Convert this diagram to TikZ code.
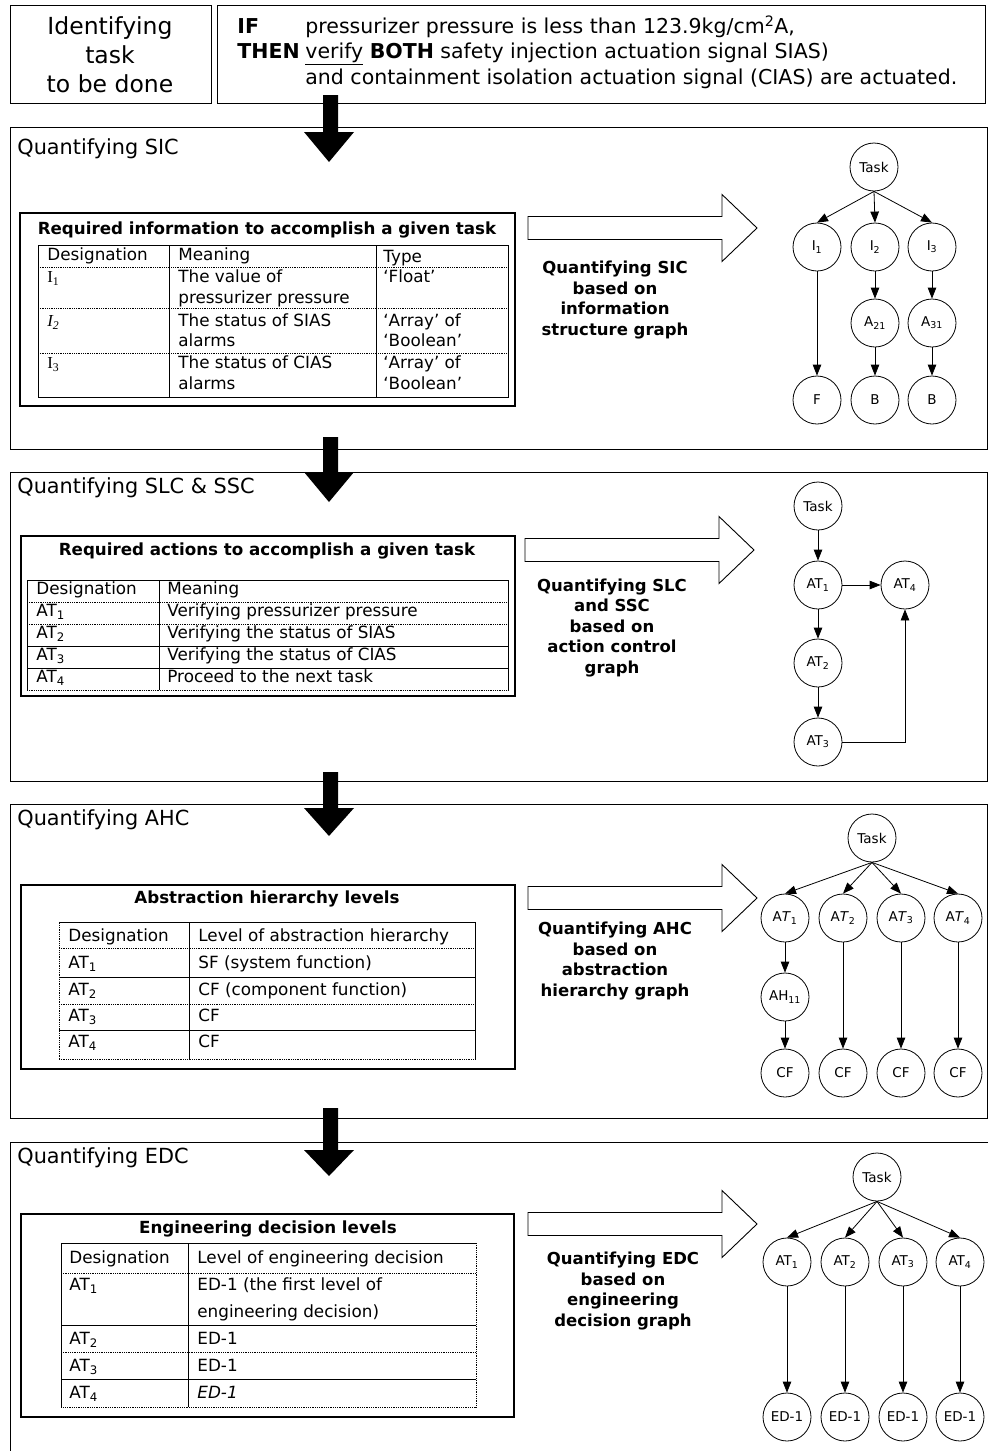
\documentclass[tikz,border=0pt]{standalone}
\usepackage{fontspec}
\setmainfont{DejaVu Sans}
\newfontfamily\serifI{Liberation Serif}
\usetikzlibrary{arrows.meta,graphs}

\begin{document}
\begin{tikzpicture}[x=1pt, y=-1pt, line width=0.8pt,
    >={Triangle[length=11pt, width=8.5pt]}]
  \tikzset{box/.style={draw, line width=0.9pt},
    panel/.style={draw, line width=1.3pt},
    rowsep/.style={densely dotted, line width=0.8pt},
    cell/.style={anchor=west, inner sep=0, text height=0.72em, text depth=0pt,
      font=\fontsize{16.8}{20}\selectfont},
    tabtitle/.style={inner sep=0, text height=0.72em, text depth=0pt,
      font=\fontsize{16.7}{20}\selectfont\bfseries},
    sect/.style={anchor=west, inner sep=0, text height=0.72em, text depth=0pt,
      font=\fontsize{20.8}{25}\selectfont},
    toptext/.style={anchor=west, inner sep=0, text height=0.72em, text depth=0pt,
      font=\fontsize{20.5}{25}\selectfont},
    graphnote/.style={align=center, inner sep=0,
      font=\fontsize{16.5}{20.5}\selectfont\bfseries},
    vtx/.style={circle, draw, line width=0.8pt, minimum size=48pt, inner sep=0,
      font=\fontsize{13.5}{15}\selectfont},
    hollow/.pic={\draw[line width=0.9pt, fill=white] (0,-11.5) -- (194,-11.5)
      -- (194,-33.5) -- (229,0) -- (194,33.5) -- (194,11.5) -- (0,11.5) -- cycle;}}
  \useasboundingbox (0,0) rectangle (988,1451);

  \draw[box] (10,5) rectangle (211,103);
  \node[align=center, inner sep=0, font=\fontsize{23.5}{29}\selectfont] (idt)
    at (110,55) {Identifying\\task\\to be done};
  \draw[box] (217,5) rectangle (985,103);
  \node[toptext] (if) at (237,30) {\bfseries IF};
  \node[toptext] (cond) at (305,30) {pressurizer pressure is less than 123.9kg/cm\textsuperscript{2}A,};
  \node[toptext] (then) at (237,55) {\bfseries THEN};
  \node[toptext] (act1) at (305,55) {\underline{verify} \textbf{BOTH} safety injection actuation signal SIAS)};
  \node[toptext] (act2) at (305,81) {and containment isolation actuation signal (CIAS) are actuated.};

  \draw[box] (10,127) rectangle (987,449);
  \draw[box] (10,472) rectangle (987,781);
  \draw[box] (10,804) rectangle (987,1118);
  \draw[box] (988,1142) -- (10,1142) -- (10,1451);

  \fill (323,95) -- (338,95) -- (338,132) -- (354,132) -- (329,162) -- (304,132) -- (323,132) -- cycle;
  \fill (323,437) -- (338,437) -- (338,472) -- (354,472) -- (329,502) -- (304,472) -- (323,472) -- cycle;
  \fill (323,772) -- (338,772) -- (338,808) -- (354,808) -- (329,836) -- (304,808) -- (323,808) -- cycle;
  \fill (323,1108) -- (338,1108) -- (338,1150) -- (354,1150) -- (329,1176) -- (304,1150) -- (323,1150) -- cycle;

  \node[sect] (s1) at (17,151) {Quantifying SIC};
  \draw[panel] (20,213) rectangle (515,406);
  \node[tabtitle] (s1h) at (267,231) {Required information to accomplish a given task};
  \draw[box] (38,245) rectangle (508,397);
  \draw[box] (169,245) -- (169,397);
  \draw[box] (376,245) -- (376,397);
  \draw[rowsep] (38,267) -- (508,267);
  \draw[rowsep] (38,308) -- (508,308);
  \draw[rowsep] (38,353) -- (508,353);
  \node[cell] (s1c1) at (47,257) {Designation};
  \node[cell] (s1c2) at (178,257) {Meaning};
  \node[cell] (s1c3) at (383,259) {Type};
  \node[cell] (s1d1) at (47,279) {\serifI I\textsubscript{1}};
  \node[cell] (s1m1) at (178,279) {The value of};
  \node[cell] (s1m1b) at (178,300) {pressurizer pressure};
  \node[cell] (s1t1) at (383,279) {`Float'};
  \node[cell] (s1d2) at (47,323) {\serifI\itshape I\textsubscript{2}};
  \node[cell] (s1m2) at (178,323) {The status of SIAS};
  \node[cell] (s1m2b) at (178,343) {alarms};
  \node[cell] (s1t2) at (383,323) {`Array' of};
  \node[cell] (s1t2b) at (383,343) {`Boolean'};
  \node[cell] (s1d3) at (47,365) {\serifI I\textsubscript{3}};
  \node[cell] (s1m3) at (178,365) {The status of CIAS};
  \node[cell] (s1m3b) at (178,386) {alarms};
  \node[cell] (s1t3) at (383,365) {`Array' of};
  \node[cell] (s1t3b) at (383,386) {`Boolean'};

  \pic at (528,228) {hollow};
  \node[graphnote] (s1n) at (615,300) {Quantifying SIC\\based on\\information\\structure graph};

  \node[vtx] (s1t) at (874,167) {Task};
  \node[vtx] (i1) at (817,247) {I\textsubscript{1}};
  \node[vtx] (i2) at (875,247) {I\textsubscript{2}};
  \node[vtx] (i3) at (932,247) {I\textsubscript{3}};
  \node[vtx] (a21) at (875,323) {A\textsubscript{21}};
  \node[vtx] (a31) at (932,323) {A\textsubscript{31}};
  \node[vtx] (f) at (817,400) {F};
  \node[vtx] (b2) at (875,400) {B};
  \node[vtx] (b3) at (932,400) {B};
  \draw[->] (s1t.south) -- (i1.north);
  \draw[->] (s1t.south) -- (i2.north);
  \draw[->] (s1t.south) -- (i3.north);
  \graph[use existing nodes] {
    i1 -> f;
    i2 -> a21 -> b2;
    i3 -> a31 -> b3;
  };

  \node[sect] (s2) at (17,490) {Quantifying SLC \& SSC};
  \draw[panel] (21,536) rectangle (515,696);
  \node[tabtitle] (s2h) at (267,552) {Required actions to accomplish a given task};
  \draw[box] (27,690) -- (27,580) -- (508,580) -- (508,690);
  \draw[rowsep] (27,690) -- (508,690);
  \draw[box] (159,580) -- (159,690);
  \draw[rowsep] (27,602) -- (508,602);
  \draw[rowsep] (27,624) -- (508,624);
  \draw[box] (27,646) -- (508,646);
  \draw[box] (27,668) -- (508,668);
  \node[cell] (s2c1) at (36,591) {Designation};
  \node[cell] (s2c2) at (167,591) {Meaning};
  \node[cell] (s2d1) at (36,613) {AT\textsubscript{1}};
  \node[cell] (s2m1) at (167,613) {Verifying pressurizer pressure};
  \node[cell] (s2d2) at (36,635) {AT\textsubscript{2}};
  \node[cell] (s2m2) at (167,635) {Verifying the status of SIAS};
  \node[cell] (s2d3) at (36,657) {AT\textsubscript{3}};
  \node[cell] (s2m3) at (167,657) {Verifying the status of CIAS};
  \node[cell] (s2d4) at (36,679) {AT\textsubscript{4}};
  \node[cell] (s2m4) at (167,679) {Proceed to the next task};

  \pic at (525,550) {hollow};
  \node[graphnote] (s2n) at (612,628) {Quantifying SLC\\and SSC\\based on\\action control\\graph};

  \node[vtx] (s2t) at (818,506) {Task};
  \node[vtx] (s2a1) at (818,585) {AT\textsubscript{1}};
  \node[vtx] (s2a4) at (905,585) {AT\textsubscript{4}};
  \node[vtx] (s2a2) at (818,663) {AT\textsubscript{2}};
  \node[vtx] (s2a3) at (818,742) {AT\textsubscript{3}};
  \graph[use existing nodes] {
    s2t -> s2a1 -> s2a2 -> s2a3;
    s2a1 -> s2a4;
    s2a3 ->[to path={-| (\tikztotarget)}] s2a4;
  };

  \node[sect] (s3) at (17,822) {Quantifying AHC};
  \draw[panel] (21,885) rectangle (515,1069);
  \node[tabtitle] (s3h) at (267,900) {Abstraction hierarchy levels};
  \draw[rowsep] (59,1059) -- (59,922);
  \draw[box] (59,922) -- (475,922) -- (475,1059);
  \draw[rowsep] (59,1059) -- (475,1059);
  \draw[box] (189,922) -- (189,1059);
  \draw[rowsep] (59,948) -- (475,948);
  \draw[box] (59,977) -- (475,977);
  \draw[rowsep] (59,1004) -- (475,1004);
  \draw[box] (59,1030) -- (475,1030);
  \node[cell] (s3c1) at (68,938) {Designation};
  \node[cell] (s3c2) at (198,938) {Level of abstraction hierarchy};
  \node[cell] (s3d1) at (68,965) {AT\textsubscript{1}};
  \node[cell] (s3m1) at (198,965) {SF (system function)};
  \node[cell] (s3d2) at (68,992) {AT\textsubscript{2}};
  \node[cell] (s3m2) at (198,992) {CF (component function)};
  \node[cell] (s3d3) at (68,1018) {AT\textsubscript{3}};
  \node[cell] (s3m3) at (198,1018) {CF};
  \node[cell] (s3d4) at (68,1044) {AT\textsubscript{4}};
  \node[cell] (s3m4) at (198,1044) {CF};

  \pic at (528,898) {hollow};
  \node[graphnote] (s3n) at (615,961) {Quantifying AHC\\based on\\abstraction\\hierarchy graph};

  \node[vtx] (s3t) at (872,838) {Task};
  \node[vtx] (s3a1) at (785,918) {A\textit{T}\textsubscript{1}};
  \node[vtx] (s3a2) at (843,918) {A\textit{T}\textsubscript{2}};
  \node[vtx] (s3a3) at (901,918) {A\textit{T}\textsubscript{3}};
  \node[vtx] (s3a4) at (958,918) {A\textit{T}\textsubscript{4}};
  \node[vtx] (s3h11) at (785,997) {AH\textsubscript{11}};
  \node[vtx] (s3f1) at (785,1073) {CF};
  \node[vtx] (s3f2) at (843,1073) {CF};
  \node[vtx] (s3f3) at (901,1073) {CF};
  \node[vtx] (s3f4) at (958,1073) {CF};
  \draw[->] (s3t.south) -- (s3a1.north);
  \draw[->] (s3t.south) -- (s3a2.north);
  \draw[->] (s3t.south) -- (s3a3.north);
  \draw[->] (s3t.south) -- (s3a4.north);
  \graph[use existing nodes] {
    s3a1 -> s3h11 -> s3f1;
    s3a2 -> s3f2;
    s3a3 -> s3f3;
    s3a4 -> s3f4;
  };

  \node[sect] (s4) at (17,1160) {Quantifying EDC};
  \draw[panel] (21,1214) rectangle (514,1417);
  \node[tabtitle] (s4h) at (268,1230) {Engineering decision levels};
  \draw[box] (61,1407) -- (61,1243) -- (476,1243);
  \draw[rowsep] (476,1243) -- (476,1407) -- (61,1407);
  \draw[box] (188,1243) -- (188,1407);
  \draw[rowsep] (61,1273) -- (476,1273);
  \draw[box] (61,1325) -- (476,1325);
  \draw[rowsep] (61,1352) -- (476,1352);
  \draw[box] (61,1379) -- (476,1379);
  \node[cell] (s4c1) at (69,1260) {Designation};
  \node[cell] (s4c2) at (197,1260) {Level of engineering decision};
  \node[cell] (s4d1) at (69,1287) {AT\textsubscript{1}};
  \node[cell] (s4m1) at (197,1287) {ED-1 (the first level of};
  \node[cell] (s4m1b) at (197,1314) {engineering decision)};
  \node[cell] (s4d2) at (69,1341) {AT\textsubscript{2}};
  \node[cell] (s4m2) at (197,1341) {ED-1};
  \node[cell] (s4d3) at (69,1368) {AT\textsubscript{3}};
  \node[cell] (s4m3) at (197,1368) {ED-1};
  \node[cell] (s4d4) at (69,1395) {AT\textsubscript{4}};
  \node[cell] (s4m4) at (197,1395) {\itshape ED-1};

  \pic at (528,1224) {hollow};
  \node[graphnote] (s4n) at (623,1291) {Quantifying EDC\\based on\\engineering\\decision graph};

  \node[vtx] (s4t) at (877,1177) {Task};
  \node[vtx] (s4a1) at (787,1262) {AT\textsubscript{1}};
  \node[vtx] (s4a2) at (845,1262) {AT\textsubscript{2}};
  \node[vtx] (s4a3) at (903,1262) {AT\textsubscript{3}};
  \node[vtx] (s4a4) at (960,1262) {AT\textsubscript{4}};
  \node[vtx] (s4e1) at (787,1417) {ED-1};
  \node[vtx] (s4e2) at (845,1417) {ED-1};
  \node[vtx] (s4e3) at (903,1417) {ED-1};
  \node[vtx] (s4e4) at (960,1417) {ED-1};
  \draw[->] (s4t.south) -- (s4a1.north);
  \draw[->] (s4t.south) -- (s4a2.north);
  \draw[->] (s4t.south) -- (s4a3.north);
  \draw[->] (s4t.south) -- (s4a4.north);
  \graph[use existing nodes] {
    s4a1 -> s4e1;
    s4a2 -> s4e2;
    s4a3 -> s4e3;
    s4a4 -> s4e4;
  };
\end{tikzpicture}
\end{document}
